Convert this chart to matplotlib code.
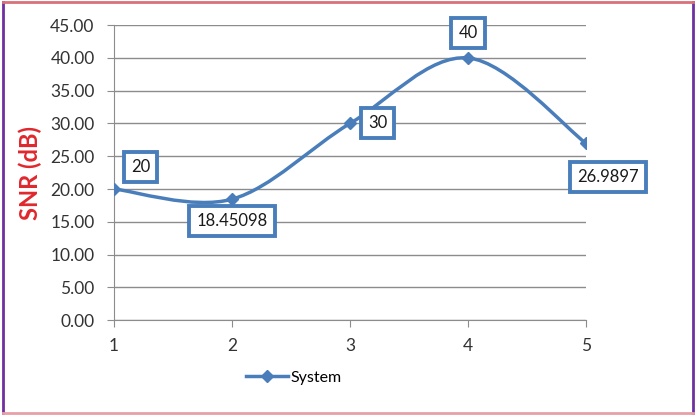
import numpy as np
import matplotlib
matplotlib.use("Agg")
import matplotlib.pyplot as plt
from matplotlib.path import Path
from matplotlib.patches import PathPatch
from matplotlib.lines import Line2D

plt.rcParams["font.family"] = ["Lato", "DejaVu Sans"]

x = [1, 2, 3, 4, 5]
snr = [20, 18.45098, 30, 40, 26.9897]
labels = ["20", "18.45098", "30", "40", "26.9897"]
# label offsets in points (dx, dy) from each point
offsets = [(19, 16), (0, -16), (20, 0), (0, 18), (16, -24)]

BLUE = "#4A7EBB"


def smooth_path(xs, ys, t=1 / 6):
    # Excel-like smoothed line: cubic Bezier through the points
    pts = np.column_stack([xs, ys]).astype(float)
    n = len(pts)
    verts = [pts[0]]
    codes = [Path.MOVETO]
    for i in range(n - 1):
        p0 = pts[max(i - 1, 0)]
        p1 = pts[i]
        p2 = pts[i + 1]
        p3 = pts[min(i + 2, n - 1)]
        c1 = p1 + (p2 - p0) * t
        c2 = p2 - (p3 - p1) * t
        verts += [c1, c2, p2]
        codes += [Path.CURVE4] * 3
    return Path(verts, codes)


fig = plt.figure(figsize=(7, 4.19), dpi=100)
ax = fig.add_axes([0.163, 0.236, 0.674, 0.704])

ax.add_patch(PathPatch(smooth_path(x, snr), fill=False, edgecolor=BLUE, lw=2.5,
                       capstyle="round", zorder=3))
ax.plot(x, snr, ls="none", marker="D", ms=6.5, color=BLUE, zorder=4)

for xi, yi, lab, (dx, dy) in zip(x, snr, labels, offsets):
    ax.annotate(lab, (xi, yi), xytext=(dx, dy), textcoords="offset points",
                ha="center", va="center", fontsize=12, color="#1a1a1a", zorder=5,
                bbox=dict(boxstyle="square,pad=0.42", fc="white", ec=BLUE, lw=2.8))

ax.set_xlim(1, 5)
ax.set_ylim(0, 45)
ax.set_xticks(x)
ax.set_yticks(np.arange(0, 46, 5))
ax.yaxis.set_major_formatter(matplotlib.ticker.FormatStrFormatter("%.2f"))
ax.grid(axis="y", color="#8C8C8C", lw=1)
ax.set_axisbelow(True)
for s in ["top", "right"]:
    ax.spines[s].set_visible(False)
for s in ["left", "bottom"]:
    ax.spines[s].set_color("#8C8C8C")
ax.tick_params(colors="#8C8C8C", labelcolor="#333333", labelsize=12.5, length=5, direction="out")
ax.tick_params(axis="y", pad=9)
ax.tick_params(axis="x", pad=8)
ax.set_ylabel("SNR (dB)", color="#E0282E", fontsize=17, fontweight="bold", labelpad=6)

handle = Line2D([], [], color=BLUE, lw=2.5, marker="D", ms=6.5)
fig.legend([handle], ["System"], loc="center", bbox_to_anchor=(0.42, 0.098),
           frameon=False, fontsize=11.5, handlelength=2.6, handletextpad=0.2)

# outer frame
fig.add_artist(Line2D([0.004, 0.004], [0.015, 0.995], transform=fig.transFigure, color="#7030A0", lw=2))
fig.add_artist(Line2D([0.99, 0.99], [0.015, 0.995], transform=fig.transFigure, color="#7030A0", lw=2))
fig.add_artist(Line2D([0.004, 0.99], [0.995, 0.995], transform=fig.transFigure, color="#D9707A", lw=2))
fig.add_artist(Line2D([0.004, 0.99], [0.015, 0.015], transform=fig.transFigure, color="#E8A0A8", lw=2))

fig.savefig("out.png", dpi=100)
